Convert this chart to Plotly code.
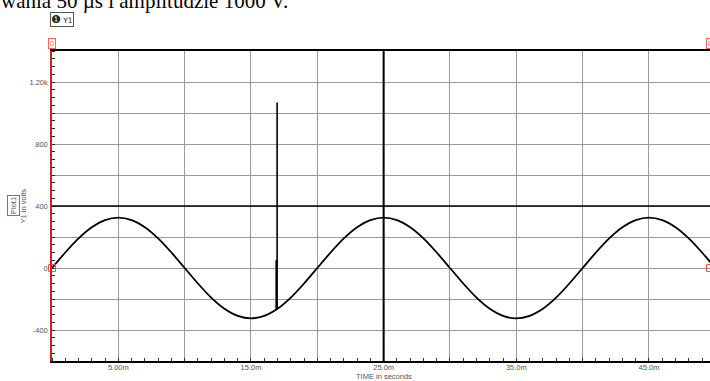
import plotly.graph_objects as go

# Sampled waveform Y1 (time in ms, voltage in V)
time_ms = list(range(0, 51))
volts = [0, 100, 191, 263, 309, 325, 309, 263, 191, 100,
         0, -100, -191, -263, -309, -325, -309, -263, -191, -100,
         0, 100, 191, 263, 309, 325, 309, 263, 191, 100,
         0, -100, -191, -263, -309, -325, -309, -263, -191, -100,
         0, 100, 191, 263, 309, 325, 309, 263, 191, 100, 0]

# Transient pulse superimposed on the waveform
pulse_t = [16.90, 16.90, None, 16.97, 16.97]
pulse_v = [-269, 50, None, -265, 1067]

# Axis ticks
x_grid = [0, 5, 10, 15, 20, 25, 30, 35, 40, 45]
x_text = ["", "5.00m", "", "15.0m", "", "25.0m", "", "35.0m", "", "45.0m"]
y_grid = [-600, -400, -200, 0, 200, 400, 600, 800, 1000, 1200, 1400]
y_text = ["", "-400", "", "0", "", "400", "", "800", "", "1.20k", ""]

# Cursors
cursor_a_t = 0
cursor_b_t = 25
level_v = 400

X_MAX = 49.6
FONT = "Liberation Sans"

fig = go.Figure()
fig.add_trace(go.Scatter(x=time_ms, y=volts, mode="lines",
                         line=dict(color="black", width=1.8, shape="spline", smoothing=0.6),
                         hoverinfo="skip"))
fig.add_trace(go.Scatter(x=pulse_t, y=pulse_v, mode="lines",
                         line=dict(color="black", width=1.6), hoverinfo="skip"))
fig.add_trace(go.Scatter(x=[cursor_a_t, X_MAX], y=[0, 0], mode="markers",
                         marker=dict(symbol="square-open", size=7, color="#ff5050",
                                     line=dict(width=1)),
                         cliponaxis=False, hoverinfo="skip"))

fig.add_shape(type="line", xref="x", yref="paper", x0=cursor_b_t, x1=cursor_b_t,
              y0=0, y1=1, line=dict(color="black", width=2))
fig.add_shape(type="line", xref="paper", yref="y", x0=0, x1=1,
              y0=level_v, y1=level_v, line=dict(color="black", width=1.5))

W, H = 710, 381
L, R, T, B = 52, 0, 51, 20
pw, ph = W - L - R, H - T - B


def px_x(p):
    return (p - L) / pw


def px_y(p):
    return (H - B - p) / ph


fig.update_layout(
    width=W, height=H,
    margin=dict(l=L, r=R, t=T, b=B),
    paper_bgcolor="white", plot_bgcolor="white",
    showlegend=False,
    font=dict(family=FONT, size=8, color="#555555"),
    xaxis=dict(range=[0, X_MAX], tickvals=x_grid, ticktext=x_text,
               showgrid=True, gridcolor="#9a9a9a", gridwidth=1,
               zeroline=False, showline=True, linecolor="black", linewidth=1.5,
               mirror=True, ticks="", ticklabelstandoff=-2,
               minor=dict(dtick=1, tick0=0, ticks="inside", ticklen=3,
                          tickcolor="#333333", showgrid=False),
               tickfont=dict(size=7.5, color="#555555")),
    yaxis=dict(range=[-600, 1400], tickvals=y_grid, ticktext=y_text,
               showgrid=True, gridcolor="#9a9a9a", gridwidth=1,
               zeroline=False, showline=True, linecolor="#d02020", linewidth=1.5,
               ticks="", ticklabelstandoff=1,
               minor=dict(dtick=50, tick0=0, ticks="inside", ticklen=3,
                          tickcolor="#222222", showgrid=False),
               tickfont=dict(size=7.5, color="#555555")),
)

ann = []
# Heading text line above the chart
ann.append(dict(text="wania 50 µs i amplitudzie 1000 V.", xref="paper", yref="paper",
                x=px_x(-1), y=px_y(15), xanchor="left", yanchor="bottom",
                showarrow=False, font=dict(family="Liberation Serif", size=21, color="black")))
# Trace legend tag
ann.append(dict(text="<span style='font-size:11px'>❶</span> Y1", xref="paper", yref="paper",
                x=px_x(50), y=px_y(12.5),
                xanchor="left", yanchor="top", showarrow=False,
                bordercolor="#555555", borderwidth=1, borderpad=0, bgcolor="white",
                font=dict(family="DejaVu Sans", size=7.5, color="#222222")))
# Cursor labels
ann.append(dict(text="0", xref="x", yref="paper", x=cursor_a_t, y=1.0, yshift=2,
                xanchor="center", yanchor="bottom", showarrow=False,
                bordercolor="#ff6060", borderwidth=1, borderpad=1, bgcolor="white",
                font=dict(family=FONT, size=7, color="#ff4040")))
ann.append(dict(text="0", xref="x", yref="paper", x=X_MAX, y=1.0, yshift=2,
                xanchor="center", yanchor="bottom", showarrow=False,
                bordercolor="#ff6060", borderwidth=1, borderpad=1, bgcolor="white",
                font=dict(family=FONT, size=7, color="#ff4040")))
# Axis titles
ann.append(dict(text="TIME in seconds", xref="x", yref="paper", x=cursor_b_t, y=px_y(376.5),
                xanchor="center", yanchor="middle", showarrow=False,
                font=dict(family=FONT, size=7.5, color="#555555")))
ann.append(dict(text="Y1 in volts", xref="paper", yref="paper", x=px_x(22.5), y=0.5,
                xanchor="center", yanchor="middle", textangle=-90, showarrow=False,
                font=dict(family=FONT, size=7.5, color="#555555")))
ann.append(dict(text="Plot1", xref="paper", yref="paper", x=px_x(13), y=0.5,
                xanchor="center", yanchor="middle", textangle=-90, showarrow=False,
                bordercolor="#777777", borderwidth=1, borderpad=1, bgcolor="white",
                font=dict(family=FONT, size=7.5, color="#555555")))
fig.update_layout(annotations=ann)

fig.write_html("out.html")
